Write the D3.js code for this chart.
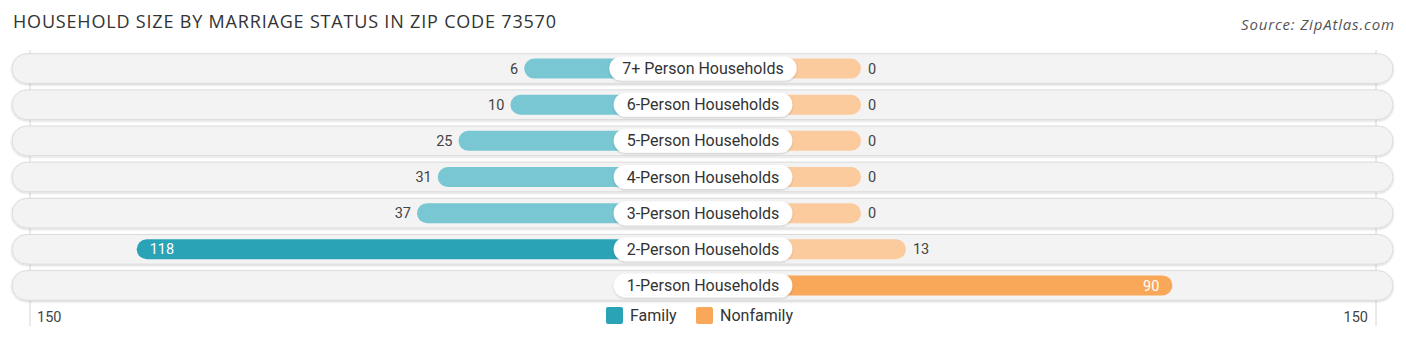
<!DOCTYPE html>
<html>
<head>
<meta charset="utf-8">
<script src="https://cdn.jsdelivr.net/npm/d3@7"></script>
<style>
  body { margin: 0; background: #fff; }
  svg { display: block; }
</style>
</head>
<body>
<div id="chart"></div>
<script>
// Chart data
var categories = ["7+ Person Households", "6-Person Households", "5-Person Households",
  "4-Person Households", "3-Person Households", "2-Person Households", "1-Person Households"];
var familyValues = [6, 10, 25, 31, 37, 118, 0];
var nonfamilyValues = [0, 0, 0, 0, 0, 13, 90];
var seriesNames = ["Family", "Nonfamily"];
var axisTicks = [150];

var svgWidth = 1406;
var svgHeight = 341;
var centerX = 703;

var svg = d3.select("#chart")
  .append("svg")
  .attr("width", svgWidth)
  .attr("height", svgHeight);

var defs = svg.append("defs");
var shadow = defs.append("filter").attr("id", "shadow")
  .attr("x", "-10%").attr("y", "-30%").attr("width", "120%").attr("height", "160%");
shadow.append("feDropShadow")
  .attr("dx", 0).attr("dy", 1).attr("stdDeviation", 1.2)
  .attr("flood-color", "#000").attr("flood-opacity", 0.18);

// Title and source
svg.append("text")
  .attr("x", 13)
  .attr("y", 28)
  .attr("font-family", "'Open Sans', sans-serif")
  .attr("font-size", "18px")
  .attr("fill", "#333")
  .attr("textLength", 543)
  .attr("lengthAdjust", "spacing")
  .text("HOUSEHOLD SIZE BY MARRIAGE STATUS IN ZIP CODE 73570");

svg.append("text")
  .attr("x", 1394)
  .attr("y", 30)
  .attr("text-anchor", "end")
  .attr("font-family", "'Open Sans', sans-serif")
  .attr("font-style", "italic")
  .attr("font-size", "15px")
  .attr("fill", "#555")
  .attr("textLength", 153)
  .attr("lengthAdjust", "spacing")
  .text("Source: ZipAtlas.com");

// Scales: length from the centre line (bars start under the label)
var lenScale = d3.scaleLinear().domain([0, 150]).range([158, 677]);
var yScale = d3.scaleBand()
  .domain(categories)
  .range([50.5, 303.5])
  .paddingInner(0.18)
  .paddingOuter(0.09);

var familyColor = d3.scaleThreshold().domain([60]).range(["#78c7d2", "#2aa3b6"]);
var nonfamilyColor = d3.scaleThreshold().domain([60]).range(["#fbcb9d", "#f9a758"]);

// Grid lines at the 150 ends
var gridHalf = lenScale(axisTicks[0]) - 4;
[centerX - gridHalf, centerX + gridHalf].forEach(function(x) {
  svg.append("line")
    .attr("x1", x).attr("x2", x)
    .attr("y1", 50).attr("y2", 326)
    .attr("stroke", "#d6d6d6")
    .attr("stroke-width", 1);
});

var rows = svg.selectAll("g.row")
  .data(categories)
  .enter()
  .append("g")
  .attr("class", "row");

var rowH = yScale.bandwidth();

// Row backgrounds
rows.append("rect")
  .attr("x", 12)
  .attr("y", d => yScale(d))
  .attr("width", 1381)
  .attr("height", rowH)
  .attr("rx", rowH / 2)
  .attr("fill", "#f3f3f3")
  .attr("stroke", "#dcdcdc")
  .attr("stroke-width", 1)
  .attr("filter", "url(#shadow)");

var barH = 20;

// Family bars (left)
rows.append("rect")
  .attr("x", (d, i) => centerX - lenScale(familyValues[i]))
  .attr("y", d => yScale(d) + rowH / 2 - barH / 2)
  .attr("width", (d, i) => lenScale(familyValues[i]))
  .attr("height", barH)
  .attr("rx", barH / 2)
  .attr("fill", (d, i) => familyColor(familyValues[i]))
  .attr("opacity", (d, i) => familyValues[i] > 0 ? 1 : 0);

// Nonfamily bars (right)
rows.append("rect")
  .attr("x", centerX)
  .attr("y", d => yScale(d) + rowH / 2 - barH / 2)
  .attr("width", (d, i) => lenScale(nonfamilyValues[i]))
  .attr("height", barH)
  .attr("rx", barH / 2)
  .attr("fill", (d, i) => nonfamilyColor(nonfamilyValues[i]));

// Category labels in white pills
rows.each(function(d) {
  var g = d3.select(this);
  var cy = yScale(d) + rowH / 2;
  var txt = g.append("text")
    .attr("x", centerX)
    .attr("y", cy)
    .attr("dy", "0.35em")
    .attr("text-anchor", "middle")
    .attr("font-family", "Roboto, sans-serif")
    .attr("font-size", "16px")
    .attr("fill", "#333")
    .text(d);
  var w = txt.node().getComputedTextLength() + 26;
  g.insert("rect", "text")
    .attr("x", centerX - w / 2)
    .attr("y", cy - 12)
    .attr("width", w)
    .attr("height", 24)
    .attr("rx", 12)
    .attr("fill", "#fff")
    .attr("filter", "url(#shadow)");
});

// Value labels
rows.append("text")
  .attr("y", d => yScale(d) + rowH / 2)
  .attr("dy", "0.35em")
  .attr("font-family", "Roboto, sans-serif")
  .attr("font-size", "14.5px")
  .each(function(d, i) {
    var v = familyValues[i];
    var left = centerX - lenScale(v);
    var inside = v > 80;
    d3.select(this)
      .attr("x", inside ? left + 13 : left - 6)
      .attr("text-anchor", inside ? "start" : "end")
      .attr("fill", inside ? "#fff" : "#444")
      .text(v > 0 ? v : "");
  });

rows.append("text")
  .attr("y", d => yScale(d) + rowH / 2)
  .attr("dy", "0.35em")
  .attr("font-family", "Roboto, sans-serif")
  .attr("font-size", "14.5px")
  .each(function(d, i) {
    var v = nonfamilyValues[i];
    var right = centerX + lenScale(v);
    var inside = v > 80;
    d3.select(this)
      .attr("x", inside ? right - 13 : right + 7)
      .attr("text-anchor", inside ? "end" : "start")
      .attr("fill", inside ? "#fff" : "#444")
      .text(v);
  });

// Axis end labels
svg.append("text")
  .attr("x", centerX - gridHalf + 7)
  .attr("y", 322)
  .attr("font-family", "Roboto, sans-serif")
  .attr("font-size", "14.5px")
  .attr("fill", "#444")
  .text(axisTicks[0]);

svg.append("text")
  .attr("x", centerX + gridHalf - 8)
  .attr("y", 322)
  .attr("text-anchor", "end")
  .attr("font-family", "Roboto, sans-serif")
  .attr("font-size", "14.5px")
  .attr("fill", "#444")
  .text(axisTicks[0]);

// Legend
var legendColors = ["#2aa3b6", "#f9a758"];
var legendX = [606, 696];
seriesNames.forEach(function(name, i) {
  svg.append("rect")
    .attr("x", legendX[i])
    .attr("y", 307)
    .attr("width", 17)
    .attr("height", 17)
    .attr("rx", 2)
    .attr("fill", legendColors[i]);
  svg.append("text")
    .attr("x", legendX[i] + 24)
    .attr("y", 321)
    .attr("font-family", "Roboto, sans-serif")
    .attr("font-size", "16px")
    .attr("fill", "#333")
    .text(name);
});
</script>
</body>
</html>
